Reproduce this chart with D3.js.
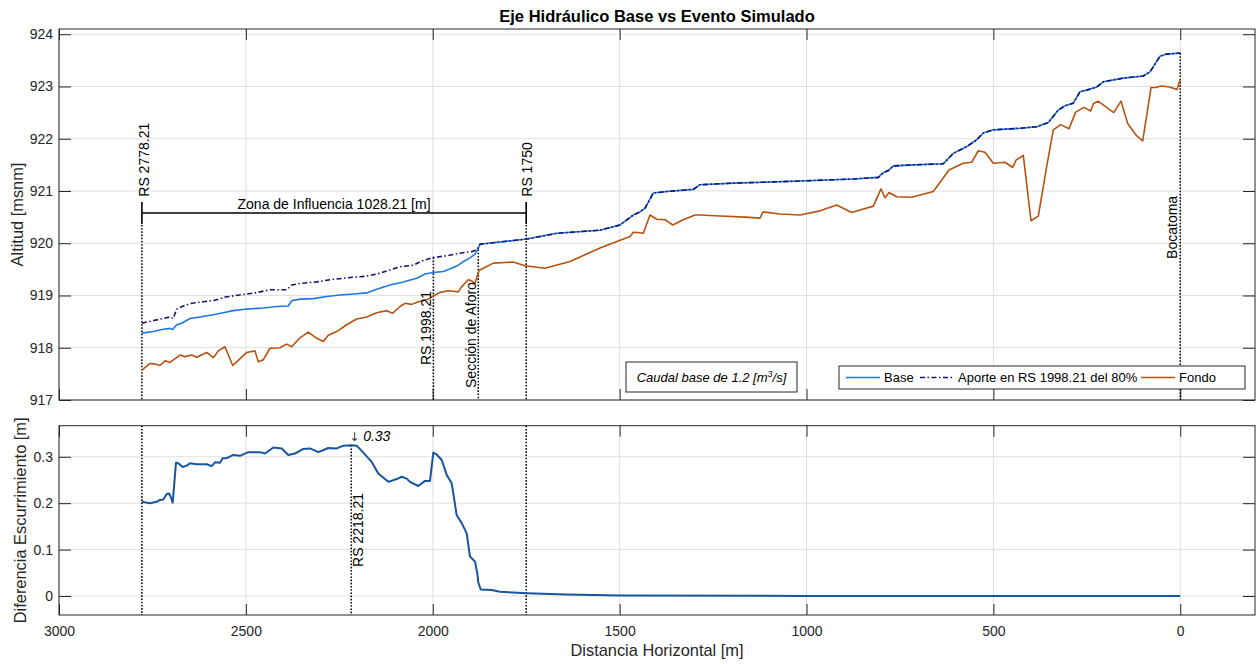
<!DOCTYPE html>
<html><head><meta charset="utf-8">
<script src="https://cdn.jsdelivr.net/npm/d3@7"></script>
<style>
html,body{margin:0;padding:0;background:#fff;}
svg{display:block;font-family:"Liberation Sans",Arial,Helvetica,sans-serif;}
</style></head>
<body><svg id="c" width="1258" height="664"></svg>
<script>
// ---------------- data ----------------
const xTicks = [3000, 2500, 2000, 1500, 1000, 500, 0];
const yTicksTop = [917, 918, 919, 920, 921, 922, 923, 924];
const yTicksBot = [0, 0.1, 0.2, 0.3];

const distFondo = [2778.21, 2756.5, 2743.1, 2729.8, 2716.4, 2703.0, 2676.3, 2662.9, 2644.9, 2631.6,
  2604.8, 2587.2, 2573.8, 2555.9, 2535.3, 2524.5, 2497.8, 2475.6, 2466.8, 2453.4,
  2435.5, 2408.7, 2390.8, 2377.4, 2355.2, 2333.0, 2310.5, 2292.8, 2279.5, 2257.0,
  2230.2, 2203.5, 2176.7, 2150.0, 2123.2, 2107.2, 2087.6, 2074.2, 2056.3, 2038.7,
  2011.9, 1998.5, 1980.6, 1958.4, 1931.6, 1922.5, 1904.9, 1895.8, 1887.0, 1876.2,
  1864.7, 1838.0, 1784.5, 1753.2, 1699.7, 1632.8, 1552.5, 1472.2, 1463.4, 1445.5,
  1436.6, 1418.7, 1400.8, 1378.6, 1358.0, 1329.6, 1298.3, 1284.9, 1231.4, 1164.5,
  1124.4, 1116.4, 1070.9, 1017.4, 963.9, 919.2, 879.0, 821.3, 800.7, 790.0,
  779.3, 758.7, 718.5, 660.7, 618.7, 580.5, 558.0, 540.3, 522.4, 500.2,
  468.9, 448.3, 439.4, 419.9, 399.3, 379.8, 357.3, 339.6, 319.8, 297.6,
  279.7, 257.5, 239.6, 232.6, 220.0, 178.0, 158.5, 140.6, 118.4, 100.4,
  78.2, 64.9, 51.5, 28.7, 8.7, 0];
const altFondo = [917.57, 917.70, 917.69, 917.66, 917.75, 917.72, 917.86, 917.83, 917.86, 917.82,
  917.91, 917.81, 917.94, 918.02, 917.66, 917.73, 917.91, 917.94, 917.73, 917.77,
  917.99, 918.00, 918.07, 918.02, 918.19, 918.30, 918.18, 918.12, 918.24, 918.31,
  918.44, 918.55, 918.59, 918.67, 918.71, 918.66, 918.79, 918.85, 918.83, 918.88,
  918.93, 918.99, 919.06, 919.09, 919.07, 919.17, 919.30, 919.28, 919.23, 919.48,
  919.52, 919.62, 919.64, 919.57, 919.52, 919.65, 919.91, 920.13, 920.21, 920.20,
  920.19, 920.54, 920.46, 920.45, 920.35, 920.45, 920.54, 920.54, 920.52, 920.50,
  920.48, 920.60, 920.56, 920.54, 920.62, 920.73, 920.59, 920.71, 921.04, 920.87,
  920.97, 920.89, 920.88, 920.99, 921.40, 921.53, 921.55, 921.77, 921.74, 921.53,
  921.55, 921.45, 921.59, 921.68, 920.43, 920.52, 921.47, 922.17, 922.27, 922.19,
  922.51, 922.60, 922.53, 922.67, 922.72, 922.50, 922.72, 922.29, 922.07, 921.96,
  922.98, 922.98, 923.01, 922.99, 922.94, 923.14];

const distBase = [2778.21, 2747.7, 2725.2, 2703.0, 2695.8, 2685.1, 2671.7, 2649.5, 2622.7, 2587.2,
  2560.4, 2533.6, 2497.8, 2453.4, 2417.5, 2386.5, 2377.4, 2355.2, 2319.6, 2283.7,
  2248.2, 2212.6, 2176.7, 2150.0, 2114.4, 2078.8, 2042.9, 2020.7, 1998.5, 1971.8,
  1949.3, 1931.6, 1918.2, 1900.3, 1887.0, 1878.1,
  1873.6, 1838.0, 1748.6, 1668.4, 1552.5, 1499.0, 1463.4, 1445.5, 1432.1, 1409.9,
  1374.0, 1302.9, 1284.9, 1195.8, 1106.5, 1017.4, 874.8, 807.9, 794.5, 781.1,
  767.7, 714.2, 634.0, 607.2, 571.4, 544.6, 526.9, 500.2, 428.7, 384.1,
  353.0, 326.3, 308.3, 286.1, 268.2, 250.3, 223.5, 205.9, 152.4, 98.8,
  80.9, 54.2, 36.3, 0];
const altBase = [918.28, 918.31, 918.35, 918.37, 918.35, 918.44, 918.47, 918.56, 918.59, 918.63,
  918.67, 918.71, 918.74, 918.76, 918.79, 918.80, 918.90, 918.93, 918.94, 918.98,
  919.01, 919.03, 919.05, 919.12, 919.20, 919.26, 919.33, 919.41, 919.44, 919.46,
  919.52, 919.58, 919.65, 919.72, 919.79, 919.90,
  919.98, 920.01, 920.08, 920.19, 920.25, 920.35, 920.54, 920.60, 920.67, 920.96,
  920.99, 921.03, 921.12, 921.15, 921.17, 921.19, 921.23, 921.26, 921.35, 921.39,
  921.48, 921.50, 921.52, 921.72, 921.85, 921.98, 922.11, 922.17, 922.20, 922.23,
  922.31, 922.55, 922.63, 922.68, 922.90, 922.93, 922.99, 923.09, 923.16, 923.20,
  923.28, 923.58, 923.62, 923.64];

const distAporte = [2778.21, 2747.7, 2720.9, 2703.0, 2694.2, 2685.1, 2667.4, 2644.9, 2613.9, 2582.6,
  2555.9, 2515.7, 2475.6, 2435.5, 2390.8, 2377.4, 2355.2, 2310.5, 2266.1, 2212.6,
  2176.7, 2150.0, 2114.4, 2087.6, 2052.0, 2029.6, 1998.5, 1962.7, 1927.1, 1895.8, 1882.4,
  1873.6, 1838.0, 1748.6, 1668.4, 1552.5, 1499.0, 1463.4, 1445.5, 1432.1, 1409.9,
  1374.0, 1302.9, 1284.9, 1195.8, 1106.5, 1017.4, 874.8, 807.9, 794.5, 781.1,
  767.7, 714.2, 634.0, 607.2, 571.4, 544.6, 526.9, 500.2, 428.7, 384.1,
  353.0, 326.3, 308.3, 286.1, 268.2, 250.3, 223.5, 205.9, 152.4, 98.8,
  80.9, 54.2, 36.3, 0];
const altAporte = [918.47, 918.52, 918.56, 918.59, 918.56, 918.74, 918.80, 918.85, 918.88, 918.91,
  918.97, 919.01, 919.05, 919.11, 919.11, 919.20, 919.23, 919.26, 919.31, 919.35,
  919.37, 919.41, 919.49, 919.55, 919.58, 919.66, 919.73, 919.76, 919.81, 919.84, 919.87,
  919.98, 920.01, 920.08, 920.19, 920.25, 920.35, 920.54, 920.60, 920.67, 920.96,
  920.99, 921.03, 921.12, 921.15, 921.17, 921.19, 921.23, 921.26, 921.35, 921.39,
  921.48, 921.50, 921.52, 921.72, 921.85, 921.98, 922.11, 922.17, 922.20, 922.23,
  922.31, 922.55, 922.63, 922.68, 922.90, 922.93, 922.99, 923.09, 923.16, 923.20,
  923.28, 923.58, 923.62, 923.64];

const distDiff = [2778.21, 2756.5, 2738.6, 2729.8, 2720.9, 2711.8, 2705.7, 2701.1, 2695.8, 2687.0,
  2680.8, 2669.0, 2658.3, 2649.5, 2631.6, 2604.8, 2591.4, 2582.6, 2569.2, 2562.0,
  2551.3, 2533.6, 2515.7, 2493.5, 2462.2, 2448.8, 2426.6, 2404.1, 2386.5, 2368.6,
  2346.3, 2328.4, 2306.2, 2279.5, 2257.0, 2239.3, 2216.9, 2203.5, 2185.8, 2163.3,
  2145.7, 2118.9, 2096.4, 2083.1, 2069.7, 2060.9, 2038.7, 2020.7, 2007.4, 1998.5,
  1989.4, 1976.0, 1962.7, 1949.3, 1935.9, 1922.5, 1909.2, 1900.3, 1887.0, 1880.8,
  1878.1, 1871.7, 1842.3, 1820.1, 1748.6, 1641.6, 1499.0, 1000, 500, 0];
const valDiff = [0.203, 0.200, 0.203, 0.207, 0.208, 0.220, 0.221, 0.214, 0.201, 0.287,
  0.286, 0.278, 0.281, 0.286, 0.284, 0.284, 0.280, 0.288, 0.287, 0.297,
  0.297, 0.304, 0.302, 0.310, 0.310, 0.307, 0.320, 0.318, 0.304, 0.307,
  0.317, 0.318, 0.310, 0.319, 0.318, 0.324, 0.325, 0.324, 0.309, 0.289,
  0.264, 0.246, 0.252, 0.257, 0.253, 0.246, 0.237, 0.248, 0.248, 0.309,
  0.305, 0.293, 0.261, 0.243, 0.174, 0.157, 0.135, 0.085, 0.074, 0.049,
  0.029, 0.014, 0.013, 0.009, 0.006, 0.003, 0.001, 0, 0, 0];

// section markers (distance, label)
const zonaStart = 2778.21, zonaEnd = 1750, zonaAlt = 920.58;
const peakDist = 2218.21, peakVal = 0.325;

// ---------------- chart ----------------
const svg = d3.select("#c");
const INK = "#262626", GRID = "#dfdfdf";
const L = 59, R = 1255;
const x = d3.scaleLinear().domain([3000, -200]).range([L, R]);
const yT = d3.scaleLinear().domain([917, 924.1]).range([400, 29]);
const yB = d3.scaleLinear().domain([-0.041, 0.367]).range([615, 425.7]);

function panel(y, yticks, fmt, showX) {
  const [b, t] = y.range();
  const g = svg.append("g");
  g.selectAll(".gx").data(xTicks).join("line")
    .attr("x1", d => x(d)).attr("x2", d => x(d)).attr("y1", t).attr("y2", b)
    .attr("stroke", GRID).attr("stroke-width", 1);
  g.selectAll(".gy").data(yticks).join("line")
    .attr("x1", L).attr("x2", R).attr("y1", d => y(d)).attr("y2", d => y(d))
    .attr("stroke", GRID).attr("stroke-width", 1);
  const ax = g.append("g").attr("transform", `translate(0,${b})`)
    .call(d3.axisBottom(x).tickValues(xTicks).tickSizeInner(-11).tickSizeOuter(0).tickPadding(11)
      .tickFormat(showX ? d3.format("d") : ""));
  const axT = g.append("g").attr("transform", `translate(0,${t})`)
    .call(d3.axisTop(x).tickValues(xTicks).tickSizeInner(-11).tickSizeOuter(0).tickFormat(""));
  const ayL = g.append("g").attr("transform", `translate(${L},0)`)
    .call(d3.axisLeft(y).tickValues(yticks).tickSizeInner(-12).tickSizeOuter(0).tickPadding(6).tickFormat(fmt));
  const ayR = g.append("g").attr("transform", `translate(${R},0)`)
    .call(d3.axisRight(y).tickValues(yticks).tickSizeInner(-12).tickSizeOuter(0).tickFormat(""));
  [ax, axT, ayL, ayR].forEach(a => {
    a.select(".domain").remove();
    a.selectAll("line").attr("stroke", INK).attr("stroke-width", 1);
    a.selectAll("text").attr("fill", INK).style("font-size", "14px")
      .style("font-family", '"Liberation Sans",Arial,sans-serif');
  });
  g.append("rect").attr("x", L).attr("y", t).attr("width", R - L).attr("height", b - t)
    .attr("fill", "none").attr("stroke", INK).attr("stroke-width", 1);
  return g;
}

const gTop = panel(yT, yTicksTop, d3.format("d"), false);
const gBot = panel(yB, yTicksBot, d => d === 0 ? "0" : d3.format(".1f")(d), true);

svg.append("defs").append("clipPath").attr("id", "cpT")
  .append("rect").attr("x", L).attr("y", 29).attr("width", R - L).attr("height", 371);

const lineT = (xs, ys) => d3.line().x((d, i) => x(xs[i])).y((d, i) => yT(ys[i]))(xs);
const lineB = (xs, ys) => d3.line().x((d, i) => x(xs[i])).y((d, i) => yB(ys[i]))(xs);

const dot = "1.6,1.6";
function vline(xv, y1, y2) {
  svg.append("line").attr("x1", x(xv)).attr("x2", x(xv)).attr("y1", y1).attr("y2", y2)
    .attr("stroke", "#000").attr("stroke-width", 1.5).attr("stroke-dasharray", dot);
}
vline(2778.21, yT(zonaAlt) + 12, yT(917));
vline(1750, yT(zonaAlt) + 12, yT(917));
vline(1998.21, yT(919.73), yT(917));
vline(1878.21, yT(919.88), yT(917));
vline(0, yT(923.64), yT(917));
vline(2778.21, yB(0.367), yB(-0.041));
vline(1750, yB(0.367), yB(-0.041));
vline(peakDist, yB(peakVal), yB(-0.041));

const pg = svg.append("g").attr("clip-path", "url(#cpT)");
pg.append("path").attr("d", lineT(distFondo, altFondo)).attr("fill", "none")
  .attr("stroke", "#b8520f").attr("stroke-width", 1.6).attr("stroke-linejoin", "round");
pg.append("path").attr("d", lineT(distBase, altBase)).attr("fill", "none")
  .attr("stroke", "#1f78e0").attr("stroke-width", 1.6).attr("stroke-linejoin", "round");
pg.append("path").attr("d", lineT(distAporte, altAporte)).attr("fill", "none")
  .attr("stroke", "#14146e").attr("stroke-width", 1.6).attr("stroke-dasharray", "5,2.5,1.5,2.5");

svg.append("path").attr("d", lineB(distDiff, valDiff)).attr("fill", "none")
  .attr("stroke", "#17559f").attr("stroke-width", 2).attr("stroke-linejoin", "round");

const zy = yT(zonaAlt);
svg.append("line").attr("x1", x(zonaStart)).attr("x2", x(zonaEnd)).attr("y1", zy).attr("y2", zy)
  .attr("stroke", "#000").attr("stroke-width", 1.6);
[zonaStart, zonaEnd].forEach(d => svg.append("line").attr("x1", x(d)).attr("x2", x(d))
  .attr("y1", zy - 11).attr("y2", zy + 11).attr("stroke", "#000").attr("stroke-width", 1.6));
svg.append("text").attr("x", x((zonaStart + zonaEnd) / 2)).attr("y", zy - 4)
  .attr("text-anchor", "middle").style("font-size", "14px").attr("fill", "#000")
  .text("Zona de Influencia 1028.21 [m]");

const rotLabels = [
  [2778.21, 920.89, "T", 2, "RS 2778.21"],
  [1750, 920.89, "T", 1, "RS 1750"],
  [1998.21, 917.67, "T", -7, "RS 1998.21"],
  [1878.21, 917.23, "T", -7, "Sección de Aforo"],
  [0, 919.70, "T", -8, "Bocatoma"],
  [2218.21, 0.0625, "B", 6.5, "RS 2218.21"]
];
rotLabels.forEach(([d, v, p, dx, t]) => {
  const px = x(d) + dx, py = (p === "T" ? yT : yB)(v);
  svg.append("text").attr("transform", `translate(${px},${py}) rotate(-90)`)
    .attr("dominant-baseline", "central").attr("text-anchor", "start")
    .style("font-size", "14px").attr("fill", "#000").text(t);
});

// peak annotation
const pt = svg.append("text").attr("x", x(peakDist) - 2).attr("y", yB(peakVal) - 4)
  .style("font-size", "14px").attr("fill", "#000");
pt.append("tspan").style("font-family", '"DejaVu Sans",sans-serif').style("font-size", "12px")
  .attr("fill", "#333").text("\u2193\uFE0E");
pt.append("tspan").style("font-style", "italic").text(" 0.33");

// caudal box
svg.append("rect").attr("x", 626).attr("y", 362).attr("width", 171).attr("height", 30)
  .attr("fill", "#fff").attr("stroke", INK).attr("stroke-width", 1);
const ct = svg.append("text").attr("x", 711.5).attr("y", 382).attr("text-anchor", "middle")
  .style("font-size", "13px").style("font-style", "italic").attr("fill", "#000");
ct.append("tspan").text("Caudal base de 1.2 [m");
ct.append("tspan").attr("dy", -5).style("font-size", "9px").text("3");
ct.append("tspan").attr("dy", 5).text("/s]");

// legend
const lg = svg.append("g");
lg.append("rect").attr("x", 839).attr("y", 366).attr("width", 406).attr("height", 23)
  .attr("fill", "#fff").attr("stroke", INK).attr("stroke-width", 1);
const legItems = [
  {name: "Base", color: "#1f78e0", dash: null, x0: 846},
  {name: "Aporte en RS 1998.21 del 80%", color: "#14146e", dash: "5,2.5,1.5,2.5", x0: 920},
  {name: "Fondo", color: "#b8520f", dash: null, x0: 1141}
];
legItems.forEach(it => {
  const ln = lg.append("line").attr("x1", it.x0).attr("x2", it.x0 + 34).attr("y1", 377.5).attr("y2", 377.5)
    .attr("stroke", it.color).attr("stroke-width", 1.6);
  if (it.dash) ln.attr("stroke-dasharray", it.dash);
  lg.append("text").attr("x", it.x0 + 38).attr("y", 382).style("font-size", "13px")
    .attr("fill", "#000").text(it.name);
});

svg.append("text").attr("x", 657).attr("y", 22).attr("text-anchor", "middle")
  .style("font-size", "16.5px").style("font-weight", "bold").attr("fill", "#000")
  .text("Eje Hidráulico Base vs Evento Simulado");
svg.append("text").attr("x", 657).attr("y", 656).attr("text-anchor", "middle")
  .style("font-size", "16.4px").attr("fill", INK).text("Distancia Horizontal [m]");
svg.append("text").attr("transform", `translate(23,${(400 + 29) / 2}) rotate(-90)`)
  .attr("text-anchor", "middle").style("font-size", "16.4px").attr("fill", INK).text("Altitud [msnm]");
svg.append("text").attr("transform", `translate(26,${(615 + 425.7) / 2}) rotate(-90)`)
  .attr("text-anchor", "middle").style("font-size", "16.4px").attr("fill", INK).text("Diferencia Escurrimiento [m]");
</script></body></html>
